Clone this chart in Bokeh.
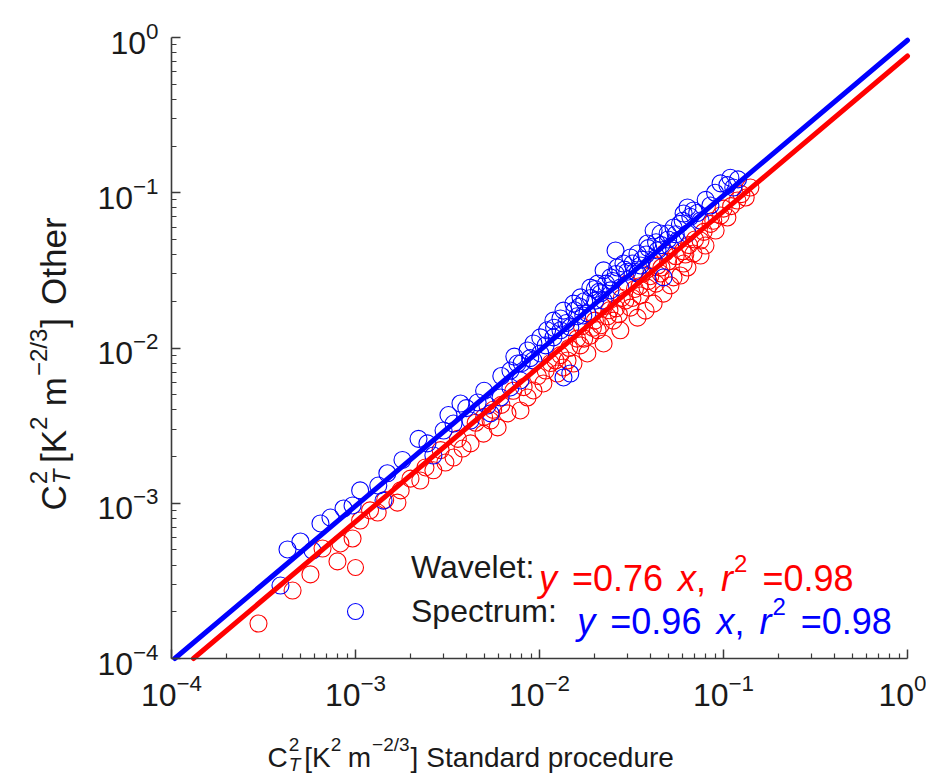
import math
from bokeh.plotting import figure
from bokeh.models import Range1d, FixedTicker, Label, Legend, LegendItem
from bokeh.embed import file_html
from bokeh.resources import INLINE

# ---------------- data ----------------
wavelet_x = [2.97e-4, 4.55e-4, 5.69e-4, 7.98e-4, 8.28e-4, 6.62e-4, 9.64e-4, 1.06e-3, 1.32e-3, 1.69e-3,
             1.76e-3, 1.99e-3, 2.25e-3, 2.65e-3, 3.08e-3, 3.41e-3, 3.82e-3, 4.22e-3, 4.96e-3, 5.92e-3,
             5.42e-3, 6.70e-3, 7.88e-3, 8.61e-3, 9.27e-3, 1.05e-2, 1.08e-2, 1.22e-2, 1.25e-2, 1.42e-2,
             1.35e-2, 1.53e-2, 1.82e-2, 1.67e-2, 1.89e-2, 2.07e-2, 2.23e-2, 2.52e-2, 2.75e-2, 2.93e-2,
             3.12e-2, 3.41e-2, 3.54e-2, 3.77e-2, 3.86e-2, 4.17e-2, 4.55e-2, 4.72e-2, 5.15e-2, 5.35e-2,
             5.83e-2, 6.07e-2, 6.37e-2, 6.87e-2, 7.50e-2, 7.50e-2, 7.98e-2, 9.06e-2, 9.64e-2, 1.05e-1,
             1.19e-1, 1.32e-1, 1.40e-1, 1.15e-2, 1.60e-2, 2.00e-2, 2.40e-2, 2.80e-2, 3.30e-2, 4.00e-2,
             4.40e-2, 5.00e-2, 6.50e-2, 8.50e-2, 3.00e-2, 2.20e-2, 1.70e-2, 5.60e-3, 7.20e-3, 4.50e-3,
             2.90e-3, 1.45e-3, 4.80e-2, 3.60e-2, 1.00e-1, 6.00e-2,
             1.30e-2, 1.45e-2, 1.75e-2, 1.95e-2, 2.15e-2, 2.35e-2, 2.60e-2, 2.70e-2, 3.20e-2, 3.50e-2,
             3.90e-2, 4.30e-2, 4.60e-2, 5.50e-2, 6.20e-2, 7.00e-2, 7.80e-2, 8.80e-2, 1.10e-1, 1.25e-1,
             9.80e-3, 8.20e-3, 6.20e-3, 5.00e-3, 3.60e-3, 2.40e-3, 1.20e-3]
wavelet_y = [1.68e-4, 2.74e-4, 3.48e-4, 4.22e-4, 5.51e-4, 5.11e-4, 5.93e-4, 7.74e-4, 8.71e-4, 1.01e-3,
             1.21e-3, 1.44e-3, 1.40e-3, 1.63e-3, 1.83e-3, 1.97e-3, 2.25e-3, 2.43e-3, 2.81e-3, 3.08e-3,
             3.41e-3, 3.79e-3, 3.96e-3, 4.80e-3, 5.33e-3, 5.91e-3, 7.16e-3, 8.31e-3, 6.85e-3, 8.31e-3,
             7.49e-3, 7.94e-3, 9.22e-3, 1.04e-2, 1.20e-2, 1.30e-2, 1.07e-2, 1.50e-2, 1.30e-2, 2.02e-2,
             1.82e-2, 1.57e-2, 2.18e-2, 1.74e-2, 2.45e-2, 1.93e-2, 3.02e-2, 2.24e-2, 2.53e-2, 2.85e-2,
             2.93e-2, 3.50e-2, 3.30e-2, 4.06e-2, 4.92e-2, 3.94e-2, 4.57e-2, 5.71e-2, 7.13e-2, 6.93e-2,
             8.91e-2, 9.32e-2, 1.08e-1, 8.00e-3, 1.15e-2, 1.50e-2, 1.75e-2, 2.10e-2, 2.40e-2, 2.90e-2,
             3.40e-2, 3.60e-2, 4.60e-2, 6.30e-2, 2.60e-2, 1.85e-2, 1.38e-2, 4.00e-3, 5.30e-3, 3.30e-3,
             2.20e-3, 1.05e-3, 4.10e-2, 3.00e-2, 7.90e-2, 4.20e-2,
             9.00e-3, 1.00e-2, 1.15e-2, 1.35e-2, 1.40e-2, 1.60e-2, 1.80e-2, 1.65e-2, 2.10e-2, 2.50e-2,
             2.70e-2, 2.60e-2, 3.30e-2, 3.90e-2, 4.00e-2, 5.00e-2, 5.60e-2, 6.60e-2, 8.20e-2, 9.80e-2,
             6.60e-3, 5.60e-3, 4.30e-3, 3.60e-3, 2.60e-3, 1.70e-3, 9.00e-4]

spectrum_x = [3.91e-4, 4.27e-4, 5.02e-4, 5.84e-4, 6.45e-4, 7.31e-4, 8.61e-4, 9.64e-4, 1.06e-3, 1.33e-3,
              1.49e-3, 1.42e-3, 2.46e-3, 2.65e-3, 3.01e-3, 3.41e-3, 3.72e-3, 4.61e-3, 4.22e-3, 5.21e-3,
              5.42e-3, 6.14e-3, 6.95e-3, 6.95e-3, 7.88e-3, 7.59e-3, 8.61e-3, 9.27e-3, 1.01e-2, 1.35e-2,
              8.90e-3, 1.01e-2, 1.10e-2, 1.19e-2, 1.19e-2, 1.35e-2, 1.47e-2, 1.53e-2, 1.47e-2, 1.67e-2,
              1.82e-2, 1.89e-2, 2.07e-2, 2.23e-2, 2.23e-2, 2.43e-2, 2.65e-2, 2.75e-2, 2.86e-2, 3.12e-2,
              3.41e-2, 3.41e-2, 3.86e-2, 4.17e-2, 4.17e-2, 4.55e-2, 4.72e-2, 4.97e-2, 5.15e-2, 5.35e-2,
              6.07e-2, 6.37e-2, 6.37e-2, 6.87e-2, 9.64e-2, 1.09e-1, 1.13e-1, 9.27e-3, 1.08e-2, 1.30e-2,
              1.73e-2, 2.01e-2, 2.43e-2, 3.54e-2, 4.38e-2, 5.62e-2, 7.50e-2, 8.49e-2, 2.59e-2, 3.00e-2,
              1.60e-2, 2.10e-2, 3.80e-2, 5.80e-2, 1.20e-1,
              1.20e-2, 1.30e-2, 1.40e-2, 1.55e-2, 1.65e-2, 1.75e-2, 1.90e-2, 2.00e-2, 2.15e-2, 2.30e-2,
              2.50e-2, 2.60e-2, 2.90e-2, 3.20e-2, 3.30e-2, 3.60e-2, 3.90e-2, 4.30e-2, 4.60e-2, 5.00e-2,
              5.50e-2, 6.00e-2, 6.60e-2, 7.20e-2, 8.00e-2, 9.00e-2, 1.05e-1, 6.20e-3, 7.30e-3, 8.00e-3,
              5.00e-3, 4.00e-3, 3.20e-3, 2.20e-3, 1.80e-3]
spectrum_y = [2.95e-4, 5.04e-4, 5.67e-4, 4.96e-4, 7.41e-4, 8.09e-4, 9.25e-4, 9.68e-4, 1.21e-3, 1.30e-3,
              1.56e-3, 1.04e-3, 2.43e-3, 2.03e-3, 2.94e-3, 3.26e-3, 4.39e-3, 4.46e-3, 3.41e-3, 4.26e-3,
              3.79e-3, 4.80e-3, 5.57e-3, 7.16e-3, 6.18e-3, 7.94e-3, 9.64e-3, 1.07e-2, 1.17e-2, 6.46e-3,
              8.60e-3, 9.22e-3, 1.30e-2, 1.50e-2, 1.17e-2, 1.74e-2, 1.36e-2, 1.93e-2, 6.85e-3, 2.12e-2,
              1.67e-2, 2.45e-2, 2.60e-2, 3.16e-2, 2.02e-2, 2.85e-2, 3.30e-2, 2.45e-2, 3.50e-2, 3.83e-2,
              4.06e-2, 3.02e-2, 4.71e-2, 5.71e-2, 3.66e-2, 5.46e-2, 2.85e-2, 5.46e-2, 4.44e-2, 5.97e-2,
              7.35e-2, 8.04e-2, 5.46e-2, 7.69e-2, 1.15e-1, 1.25e-1, 1.08e-1, 8.31e-3, 1.04e-2, 1.30e-2,
              1.62e-2, 2.02e-2, 2.35e-2, 3.40e-2, 4.25e-2, 4.92e-2, 6.62e-2, 8.28e-2, 4.25e-2, 3.10e-2,
              1.60e-2, 2.30e-2, 4.00e-2, 6.30e-2, 1.22e-1,
              1.35e-2, 1.55e-2, 1.45e-2, 1.75e-2, 1.85e-2, 2.00e-2, 2.10e-2, 2.40e-2, 2.25e-2, 2.60e-2,
              2.70e-2, 3.00e-2, 3.20e-2, 3.50e-2, 3.10e-2, 3.70e-2, 4.40e-2, 4.80e-2, 4.60e-2, 5.00e-2,
              5.40e-2, 6.60e-2, 7.00e-2, 7.40e-2, 9.00e-2, 1.00e-1, 1.12e-1, 6.60e-3, 8.80e-3, 8.00e-3,
              5.30e-3, 4.10e-3, 3.70e-3, 2.60e-3, 1.90e-3]

wavelet_slope = 0.76
spectrum_slope = 0.96
wavelet_r2 = 0.98
spectrum_r2 = 0.98
axis_min, axis_max = 1e-4, 1e0
major_ticks = [1e-4, 1e-3, 1e-2, 1e-1, 1e0]
minor_ticks = [k * 10.0 ** e for e in range(-4, 0) for k in range(2, 10)]

RED = "#ff0000"
BLUE = "#0000ff"
INK = "#1a1a1a"
FONT = "Liberation Sans"

# ---------------- layout ----------------
W, H = 926, 775
AX_L, AX_R, AX_T, AX_B = 171, 907, 37, 658   # where the axes box sits (canvas px)
LOG_LO, LOG_HI = math.log10(axis_min), math.log10(axis_max)
dpx = (AX_R - AX_L) / (LOG_HI - LOG_LO)
dpy = (AX_B - AX_T) / (LOG_HI - LOG_LO)
# the plot frame fills the whole canvas; axes are placed at fixed data locations
x_range = Range1d(10 ** (LOG_LO - AX_L / dpx), 10 ** (LOG_HI + (W - AX_R) / dpx))
y_range = Range1d(10 ** (LOG_LO - (H - AX_B) / dpy), 10 ** (LOG_HI + AX_T / dpy))


def sx(px):
    return px


def sy(py):
    return H - py


p = figure(width=W, height=H, x_axis_type="log", y_axis_type="log",
           x_range=x_range, y_range=y_range,
           output_backend="svg", toolbar_location=None,
           min_border=0, min_border_left=0, min_border_right=0,
           min_border_top=0, min_border_bottom=0)
p.grid.visible = False
p.outline_line_color = None
p.background_fill_color = "white"
p.border_fill_color = "white"

for ax in (p.xaxis[0], p.yaxis[0]):
    ax.fixed_location = axis_min
    ax.bounds = (axis_min, axis_max)
    ax.ticker = FixedTicker(ticks=major_ticks, minor_ticks=minor_ticks)
    ax.major_tick_in = 9
    ax.major_tick_out = 0
    ax.minor_tick_in = 5
    ax.minor_tick_out = 0
    ax.axis_line_color = "#3a3a3a"
    ax.axis_line_width = 1.6
    ax.major_tick_line_color = "#3a3a3a"
    ax.minor_tick_line_color = "#3a3a3a"
    ax.major_tick_line_width = 1.5
    ax.minor_tick_line_width = 1.2
    ax.major_label_text_font = FONT
    ax.major_label_text_font_size = "32px"
    ax.major_label_text_color = INK
p.xaxis.major_label_standoff = 15
p.yaxis.major_label_standoff = 13

# ---------------- marks ----------------
r_w = p.scatter(wavelet_x, wavelet_y, marker="circle", size=17, fill_color=None,
                line_color=RED, line_width=1.1)
r_s = p.scatter(spectrum_x, spectrum_y, marker="circle", size=17, fill_color=None,
                line_color=BLUE, line_width=1.1)

for slope, col in ((wavelet_slope, RED), (spectrum_slope, BLUE)):
    lx = [axis_min / slope, axis_max]
    ly = [slope * v for v in lx]
    p.line(lx, ly, line_color=col, line_width=5, line_cap="round")

# ---------------- legend ----------------
LEG_FS = 32
EQ_FS = 36
legend = Legend(items=[LegendItem(label="Wavelet:", renderers=[r_w]),
                       LegendItem(label="Spectrum:", renderers=[r_s])],
                location=(sx(335), sy(632)),
                glyph_width=40, glyph_height=42, label_height=42,
                label_standoff=36, spacing=2, padding=0, margin=0,
                border_line_color=None, background_fill_alpha=0,
                label_text_font=FONT, label_text_font_size=f"{LEG_FS}px",
                label_text_color=INK)
p.add_layout(legend)

# advance widths (Arial / Liberation Sans, em)
AW = {' ': .278, '[': .278, ']': .278, 'K': .667, 'm': .833, 'C': .722, 'T': .611, 'S': .667,
      't': .278, 'a': .556, 'n': .556, 'd': .556, 'r': .333, 'p': .556, 'o': .556, 'c': .5,
      'e': .556, 'u': .556, 'O': .778, 'h': .556, 'y': .5, 'x': .5, '=': .584, '.': .278,
      ',': .278, '/': .278, '\u2212': .584, 'W': .944, 'v': .5, 'l': .222, ':': .278}


def tw(text, size):
    return sum(AW.get(ch, .556) for ch in text) * size


def compose(pieces, px, py, rot=False):
    """pieces: (text, size, style, raise_px, color, advance, gap_after_px)"""
    cur = 0.0
    for text, size, style, rise, color, adv, gap in pieces:
        if rot:
            x, y = px - rise, py - cur
        else:
            x, y = px + cur, py - rise
        p.add_layout(Label(x=sx(x), y=sy(y), x_units="screen", y_units="screen",
                           text=text, text_font=FONT, text_font_size=f"{size}px",
                           text_font_style=style, text_color=color,
                           text_baseline="alphabetic", text_align="left",
                           angle=math.pi / 2 if rot else 0))
        if adv:
            cur += tw(text, size) + gap


def ct_label(tail, fs, rise, sp):
    ss = round(fs * 0.68)
    return [("C", fs, "normal", 0, INK, True, 1),
            ("2", ss, "normal", rise, INK, False, 0),
            ("T", ss, "italic", -round(rise * 0.55), INK, True, 0.5 * sp),
            ("[K", fs, "normal", 0, INK, True, 0),
            ("2", ss, "normal", rise, INK, True, 0.8 * sp),
            ("m", fs, "normal", 0, INK, True, 1),
            ("\u22122/3", ss, "normal", rise, INK, True, 1),
            ("]", fs, "normal", 0, INK, True, sp),
            (tail, fs, "normal", 0, INK, True, 0)]


compose(ct_label("Standard procedure", 28, 13, 8), 267, 757)
compose(ct_label("Other", 35, 15, 13), 53, 510, rot=True)


def eq_label(slope, r2, color, fs, sp):
    ss = round(fs * 0.66)
    return [("y", fs, "italic", 0, color, True, sp),
            (f"={slope:.2f}", fs, "normal", 0, color, True, sp),
            ("x", fs, "italic", 0, color, True, 0),
            (",", fs, "normal", 0, color, True, sp),
            ("r", fs, "italic", 0, color, True, 1),
            ("2", ss, "normal", 15, color, True, sp),
            (f"={r2:.2f}", fs, "normal", 0, color, True, 0)]


LEG_TEXT_X = 335 + 40 + 36
compose(eq_label(wavelet_slope, wavelet_r2, RED, EQ_FS, 15), LEG_TEXT_X + tw("Wavelet:", LEG_FS) + 3, 578)
compose(eq_label(spectrum_slope, spectrum_r2, BLUE, EQ_FS, 15), LEG_TEXT_X + tw("Spectrum:", LEG_FS) + 20, 621)

open("out.html", "w").write(file_html(p, INLINE))
